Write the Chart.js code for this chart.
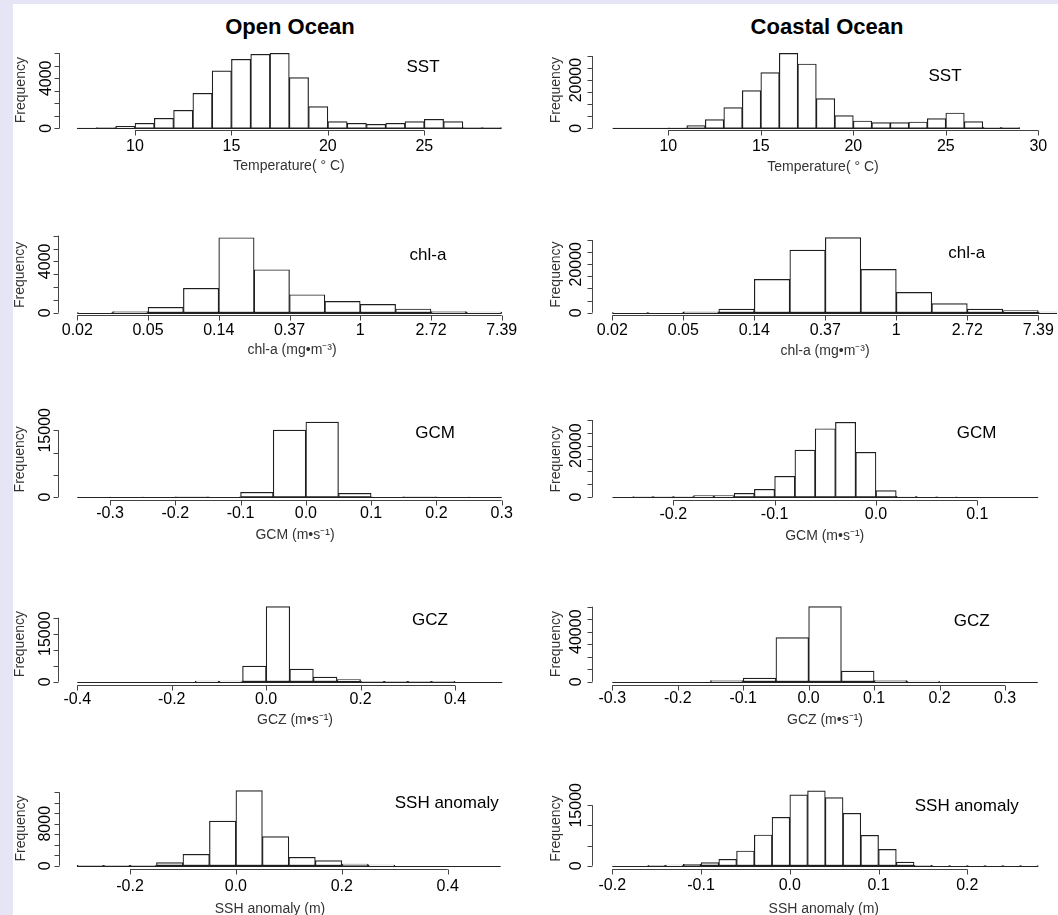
<!DOCTYPE html>
<html><head><meta charset="utf-8">
<script src="https://cdn.jsdelivr.net/npm/chart.js@4.4.1/dist/chart.umd.min.js"></script>
<style>
html,body{margin:0;padding:0;width:1058px;height:915px;overflow:hidden;background:#fff;}
#wrap{position:relative;width:1058px;height:915px;background:#fff;}
.stripTop{position:absolute;left:0;top:0;width:1058px;height:4px;background:#e5e5f5;}
.stripLeft{position:absolute;left:0;top:0;width:13px;height:915px;background:#e5e5f5;}
canvas{position:absolute;left:0;top:0;}
.colTitle{position:absolute;top:14px;font:bold 22px "Liberation Sans",Arial,sans-serif;transform:translateX(-50%);white-space:nowrap;color:#000;}
</style></head>
<body><div id="wrap">
<div class="stripTop"></div><div class="stripLeft"></div>
<div class="colTitle" style="left:290px">Open Ocean</div>
<div class="colTitle" style="left:827px">Coastal Ocean</div>
</div>
<script>
// ---------------- data ----------------
const sstBreaks = [7,8,9,10,11,12,13,14,15,16,17,18,19,20,21,22,23,24,25,26,27,28,29];
const sstOpenCounts = [10,50,160,400,800,1440,2800,4590,5520,5920,6000,4050,1730,530,400,320,400,530,720,530,50,50];
const sstCoastalCounts = [50,50,50,150,1100,3600,8570,15620,23090,31100,26680,12300,5250,3040,2350,2350,2630,4010,6360,2770,400,280];

const chlOpenBreaks = [-4,-3.5,-3,-2.5,-2,-1.5,-1,-0.5,0,0.5,1,1.5,2];
const chlOpenCounts = [10,80,420,1900,5840,3350,1400,880,650,290,80,50];
const chlCoastalBreaks = [-4,-3.5,-3,-2.5,-2,-1.5,-1,-0.5,0,0.5,1,1.5,2,2.5];
const chlCoastalCounts = [20,100,410,1510,13760,25870,30960,17890,8390,3720,1510,830,280];

const gcmOpenBreaks = [-0.35,-0.3,-0.25,-0.2,-0.15,-0.1,-0.05,0,0.05,0.1,0.15,0.2,0.25,0.3];
const gcmOpenCounts = [10,10,10,20,50,1050,15040,16840,830,50,20,10,10];
const gcmCoastalBreaks = [-0.26,-0.24,-0.22,-0.2,-0.18,-0.16,-0.14,-0.12,-0.1,-0.08,-0.06,-0.04,-0.02,0,0.02,0.04,0.06,0.08,0.1,0.12,0.14,0.16];
const gcmCoastalCounts = [0,150,150,200,520,520,1430,3000,8050,18300,26600,29100,17400,2470,260,100,100,0,0,0,0];

const gczOpenBreaks = [-0.4,-0.35,-0.3,-0.25,-0.2,-0.15,-0.1,-0.05,0,0.05,0.1,0.15,0.2,0.25,0.3,0.35,0.4,0.45,0.5];
const gczOpenCounts = [0,0,0,0,0,200,200,4900,23440,3960,1460,625,150,150,150,150,0,0];
const gczCoastalBreaks = [-0.3,-0.25,-0.2,-0.15,-0.1,-0.05,0,0.05,0.1,0.15,0.2,0.25,0.3,0.35];
const gczCoastalCounts = [0,0,0,800,2930,35200,60000,8530,800,530,0,0,0];

const sshOpenBreaks = [-0.3,-0.25,-0.2,-0.15,-0.1,-0.05,0,0.05,0.1,0.15,0.2,0.25,0.3,0.35,0.4,0.45,0.5];
const sshOpenCounts = [60,60,60,575,2170,8500,14310,5560,1600,960,320,130,0,0,0,0];
const sshCoastalBreaks = [-0.2,-0.18,-0.16,-0.14,-0.12,-0.1,-0.08,-0.06,-0.04,-0.02,0,0.02,0.04,0.06,0.08,0.1,0.12,0.14,0.16,0.18,0.2,0.22,0.24,0.26,0.28];
const sshCoastalCounts = [0,0,80,170,330,750,1580,3650,7630,12020,17580,18570,16920,13020,7550,4060,910,80,30,30,30,30,30,30];

// ---------------- tick values / labels ----------------
const sstOpenTicks = [10,15,20,25];
const sstCoastalTicks = [10,15,20,25,30];
const chlTicks = [-4,-3,-2,-1,0,1,2];
const chlTickLabels = ['0.02','0.05','0.14','0.37','1','2.72','7.39'];
const gcmOpenTicks = [-0.3,-0.2,-0.1,0,0.1,0.2,0.3];
const gcmCoastalTicks = [-0.2,-0.1,0,0.1];
const gczOpenTicks = [-0.4,-0.2,0,0.2,0.4];
const gczCoastalTicks = [-0.3,-0.2,-0.1,0,0.1,0.2,0.3];
const sshOpenTicks = [-0.2,0,0.2,0.4];
const sshCoastalTicks = [-0.2,-0.1,0,0.1,0.2];

const freqTicks6k = [0,1000,2000,3000,4000,5000,6000];
const freqLabels6k = [0,4000];
const freqTicks30k = [0,5000,10000,15000,20000,25000,30000];
const freqLabels30k = [0,20000];
const freqTicks15k = [0,5000,10000,15000];
const freqLabels15k = [0,15000];
const freqTicks20k = [0,5000,10000,15000,20000];
const freqTicks60k = [0,10000,20000,30000,40000,50000,60000];
const freqLabels60k = [0,40000];
const freqTicks14k = [0,2000,4000,6000,8000,10000,12000,14000];
const freqLabels14k = [0,8000];

const fmt1 = v => v.toFixed(1);
const FONT = '"Liberation Sans", Arial, Helvetica, sans-serif';
const W = 1058, H = 915;

// ---------------- panel layout ----------------
const panels = [
 {breaks:sstBreaks, counts:sstOpenCounts, xTicks:sstOpenTicks, xLabels:sstOpenTicks.map(String), yTicks:freqTicks6k, yLabels:freqLabels6k,
  xTitle:'Temperature( \u00B0 C)', label:'SST', cal:{x:[10,135.0,25,424.3], y:[6000,53.3,128.3]}, area:{l:60.3,r:518,b:130},
  tickY:146.7, title:[289,166], lab:[423,67], yOff:14, fOff:39},
 {breaks:sstBreaks, counts:sstCoastalCounts, xTicks:sstCoastalTicks, xLabels:sstCoastalTicks.map(String), yTicks:freqTicks30k, yLabels:freqLabels30k,
  xTitle:'Temperature( \u00B0 C)', label:'SST', cal:{x:[10,668.3,30,1038.3], y:[30000,56,128.3]}, area:{l:593.3,r:1057,b:130},
  tickY:146.7, title:[823,166.7], lab:[945,76.7], yOff:16.5, fOff:37},
 {breaks:chlOpenBreaks, counts:chlOpenCounts, xTicks:chlTicks, xLabels:chlTickLabels, yTicks:freqTicks6k, yLabels:freqLabels6k,
  xTitle:'chl-a (mg\u2022m\u207B\u00B3)', label:'chl-a', cal:{x:[-4,77.3,2,501.7], y:[6000,235.7,312.7]}, area:{l:59.3,r:518,b:315},
  tickY:331, title:[292,350], lab:[428,255], yOff:14, fOff:39},
 {breaks:chlCoastalBreaks, counts:chlCoastalCounts, xTicks:chlTicks, xLabels:chlTickLabels, yTicks:freqTicks30k, yLabels:freqLabels30k,
  xTitle:'chl-a (mg\u2022m\u207B\u00B3)', label:'chl-a', cal:{x:[-4,612.3,2,1038.3], y:[30000,240,312.7]}, area:{l:593.3,r:1057,b:314.5},
  tickY:331, title:[825,351.5], lab:[966.7,253.3], yOff:16.5, fOff:37},
 {breaks:gcmOpenBreaks, counts:gcmOpenCounts, xTicks:gcmOpenTicks, xLabels:gcmOpenTicks.map(fmt1), yTicks:freqTicks15k, yLabels:freqLabels15k,
  xTitle:'GCM (m\u2022s\u207B\u00B9)', label:'GCM', cal:{x:[-0.3,110,0.3,501.7], y:[15000,430.3,497]}, area:{l:59.3,r:518,b:499.5},
  tickY:513.5, title:[295,535], lab:[435,433.3], yOff:14, fOff:39},
 {breaks:gcmCoastalBreaks, counts:gcmCoastalCounts, xTicks:gcmCoastalTicks, xLabels:gcmCoastalTicks.map(fmt1), yTicks:freqTicks30k, yLabels:freqLabels30k,
  xTitle:'GCM (m\u2022s\u207B\u00B9)', label:'GCM', cal:{x:[-0.2,673.3,0.1,977.3], y:[30000,420,497]}, area:{l:593.3,r:1057,b:499.5},
  tickY:515, title:[824.7,536], lab:[976.7,433.3], yOff:16.5, fOff:37},
 {breaks:gczOpenBreaks, counts:gczOpenCounts, xTicks:gczOpenTicks, xLabels:gczOpenTicks.map(fmt1), yTicks:freqTicks20k, yLabels:freqLabels15k,
  xTitle:'GCZ (m\u2022s\u207B\u00B9)', label:'GCZ', cal:{x:[-0.4,77.3,0.4,455], y:[20000,617.7,681.7]}, area:{l:59.3,r:519,b:684.5},
  tickY:700, title:[295,720], lab:[430,620], yOff:14, fOff:39},
 {breaks:gczCoastalBreaks, counts:gczCoastalCounts, xTicks:gczCoastalTicks, xLabels:gczCoastalTicks.map(fmt1), yTicks:freqTicks60k, yLabels:freqLabels60k,
  xTitle:'GCZ (m\u2022s\u207B\u00B9)', label:'GCZ', cal:{x:[-0.3,612.3,0.3,1005], y:[60000,606.7,681.7]}, area:{l:593.3,r:1057,b:684.5},
  tickY:699, title:[825,720], lab:[971.7,621.7], yOff:16.5, fOff:37},
 {breaks:sshOpenBreaks, counts:sshOpenCounts, xTicks:sshOpenTicks, xLabels:sshOpenTicks.map(fmt1), yTicks:freqTicks14k, yLabels:freqLabels14k,
  xTitle:'SSH anomaly (m)', label:'SSH anomaly', cal:{x:[-0.2,130,0.4,447.7], y:[14000,792.3,865.7]}, area:{l:60,r:518,b:869.3},
  tickY:886.7, title:[270,909], lab:[446.7,803.3], yOff:14, fOff:39},
 {breaks:sshCoastalBreaks, counts:sshCoastalCounts, xTicks:sshCoastalTicks, xLabels:sshCoastalTicks.map(fmt1), yTicks:freqTicks15k, yLabels:freqLabels15k,
  xTitle:'SSH anomaly (m)', label:'SSH anomaly', cal:{x:[-0.2,612.3,0.2,967.3], y:[15000,805.3,865.7]}, area:{l:593.3,r:1057,b:869.3},
  tickY:885.5, title:[823.8,909], lab:[966.7,806.7], yOff:16.5, fOff:37}
];

function seg(ctx,x0,y0,x1,y1){ctx.beginPath();ctx.moveTo(x0,y0);ctx.lineTo(x1,y1);ctx.stroke();}

function rAxes(p){
  return {id:'rAxes', afterDraw(chart){
    const ctx = chart.ctx, xs = chart.scales.x, ys = chart.scales.y, a = chart.chartArea;
    ctx.save();
    ctx.lineWidth = 1;
    // histogram baseline (bottom of all bins)
    ctx.strokeStyle = '#222';
    const yb = Math.round(ys.getPixelForValue(0)) + 0.5;
    const bx0 = Math.max(xs.getPixelForValue(p.breaks[0]), a.left);
    const bx1 = Math.min(xs.getPixelForValue(p.breaks[p.breaks.length-1]), a.right);
    seg(ctx, bx0, yb, bx1, yb);
    // x axis (R style: line from first to last tick)
    ctx.strokeStyle = '#444';
    const ya = Math.round(a.bottom) + 0.5;
    const tx = p.xTicks.map(v => xs.getPixelForValue(v));
    seg(ctx, tx[0], ya, tx[tx.length-1], ya);
    tx.forEach(x => { const xx = Math.round(x) + 0.5; seg(ctx, xx, ya, xx, ya + 5); });
    ctx.fillStyle = '#000'; ctx.font = '16px ' + FONT; ctx.textAlign = 'center'; ctx.textBaseline = 'middle';
    tx.forEach((x,i) => ctx.fillText(p.xLabels[i], x, p.tickY));
    // y axis
    const xa = Math.round(a.left) - 0.5;
    const ty = p.yTicks.map(v => ys.getPixelForValue(v));
    seg(ctx, xa, ty[0], xa, ty[ty.length-1]);
    ty.forEach(y => { const yy = Math.round(y) + 0.5; seg(ctx, xa - 5, yy, xa, yy); });
    p.yLabels.forEach(v => {
      const y = ys.getPixelForValue(v);
      ctx.save(); ctx.translate(a.left - p.yOff, y); ctx.rotate(-Math.PI/2); ctx.fillText(String(v), 0, 0); ctx.restore();
    });
    // y title
    ctx.font = '14px ' + FONT; ctx.fillStyle = '#333';
    ctx.save(); ctx.translate(a.left - p.fOff, (a.top + a.bottom)/2); ctx.rotate(-Math.PI/2); ctx.fillText('Frequency', 0, 0); ctx.restore();
    // x title
    ctx.fillText(p.xTitle, p.title[0], p.title[1]);
    // panel label
    ctx.font = '17px ' + FONT; ctx.fillStyle = '#000';
    ctx.fillText(p.label, p.lab[0], p.lab[1]);
    ctx.restore();
  }};
}

const wrap = document.getElementById('wrap');
panels.forEach(p => {
  const cv = document.createElement('canvas');
  cv.width = W; cv.height = H;
  cv.style.width = W + 'px'; cv.style.height = H + 'px';
  wrap.appendChild(cv);
  // scale limits from calibration
  const [v1,p1,v2,p2] = p.cal.x;
  const kx = (p2 - p1) / (v2 - v1);
  const xmin = v1 + (p.area.l - p1) / kx, xmax = v1 + (p.area.r - p1) / kx;
  const [yv, yp, y0p] = p.cal.y;
  const ky = (yp - y0p) / yv;
  const top = y0p + Math.max(...p.counts) * 1.04 * ky;
  const ymin = (p.area.b - y0p) / ky, ymax = (top - y0p) / ky;
  // empty bins are left to the baseline (no side edges drawn)
  const data = p.counts.map((c,i) => ({x:(p.breaks[i] + p.breaks[i+1]) / 2, y: c > 0 ? c : null}));
  new Chart(cv, {
    type:'bar',
    data:{datasets:[{data, backgroundColor:'#ffffff', borderColor:'#1e1e1e', borderWidth:1.2, borderSkipped:false,
      barThickness:'flex', categoryPercentage:1, barPercentage:1}]},
    options:{
      responsive:false, animation:false, events:[],
      layout:{padding:{left:p.area.l, right:W - p.area.r, top:top, bottom:H - p.area.b}},
      scales:{
        x:{type:'linear', display:false, offset:false, min:xmin, max:xmax},
        y:{type:'linear', display:false, min:ymin, max:ymax}
      },
      plugins:{legend:{display:false}, tooltip:{enabled:false}}
    },
    plugins:[rAxes(p)]
  });
});
</script>
</body></html>
